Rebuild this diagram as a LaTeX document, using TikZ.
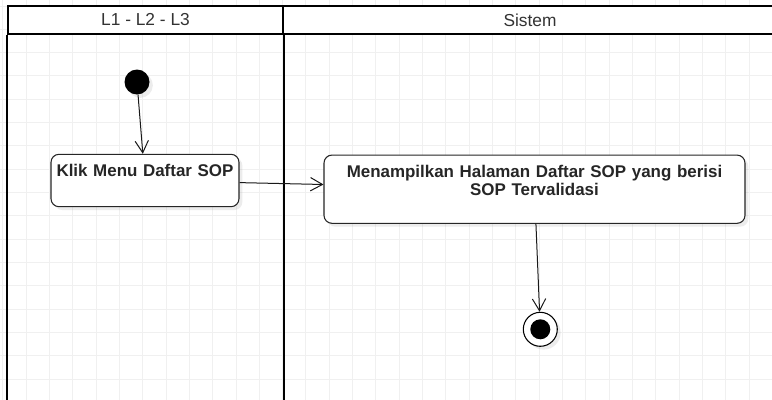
\documentclass[tikz,border=0pt]{standalone}
\usepackage{fontspec}
\setmainfont{Liberation Sans}
\usetikzlibrary{shapes,arrows.meta,positioning,shadows}

\tikzset{
  actbox/.style={draw=black!85, line width=0.8pt, rounded corners=6pt, align=center,
    font=\bfseries\fontsize{12.7}{13.2}\selectfont, text=black!85, inner sep=3pt, text height=14pt},
  lanehead/.style={draw, line width=1.5pt, fill=white, minimum height=20.55pt, inner sep=0pt,
    font=\fontsize{13}{14}\selectfont, text=black!80}
}

\begin{document}
\begin{tikzpicture}[x=0.75pt, y=-0.75pt, >={Straight Barb[length=9pt,width=10pt]}]
   \clip (0,0) rectangle (772,400);
   \fill[white] (0,0) rectangle (772,400);
   % grid
   \foreach \gx in {0,...,33} \draw[black!6, line width=0.75pt] (2.7+23.33*\gx,0) -- (2.7+23.33*\gx,400);
   \foreach \gy in {0,...,17} \draw[black!6, line width=0.75pt] (0,6+23.33*\gy) -- (772,6+23.33*\gy);
   % swimlanes
   \node (lane1) [lanehead, minimum width=205.8pt] at (145.5,20) {L1 - L2 - L3};
   \node (lane2) [lanehead, minimum width=370.95pt] at (530,20) {Sistem};
   \draw[line width=1.5pt] (lane1.south west) -- ++(0,400);
   \draw[line width=1.5pt] (lane1.south east) -- ++(0,400);
   % activities
   \begin{scope}[every node/.style={fill=white, drop shadow={opacity=0.15, shadow xshift=2.5pt, shadow yshift=-2.5pt}}]
    \node (start) [circle, fill=black, minimum size=18.75pt, inner sep=0pt] at (137,82) {};
    \node (klik) [actbox, text width=135pt, text depth=19.3pt] at (145,180.5) {Klik Menu Daftar SOP};
    \node (menu) [actbox, text width=309.75pt, text depth=31.2pt] at (534.5,189.2) {Menampilkan Halaman Daftar SOP yang berisi\\SOP Tervalidasi};
    \node (final) [circle, draw, line width=0.8pt, minimum size=25.5pt, inner sep=0pt,
      path picture={\fill[black] (path picture bounding box.center) circle (7.5pt);}] at (540.3,329.3) {};
   \end{scope}
   \begin{scope}[->, line width=0.75pt, black!90]
    \draw (start) -- (klik);
    \draw (klik) -- (menu);
    \draw (menu) -- (final);
   \end{scope}
\end{tikzpicture}
\end{document}
